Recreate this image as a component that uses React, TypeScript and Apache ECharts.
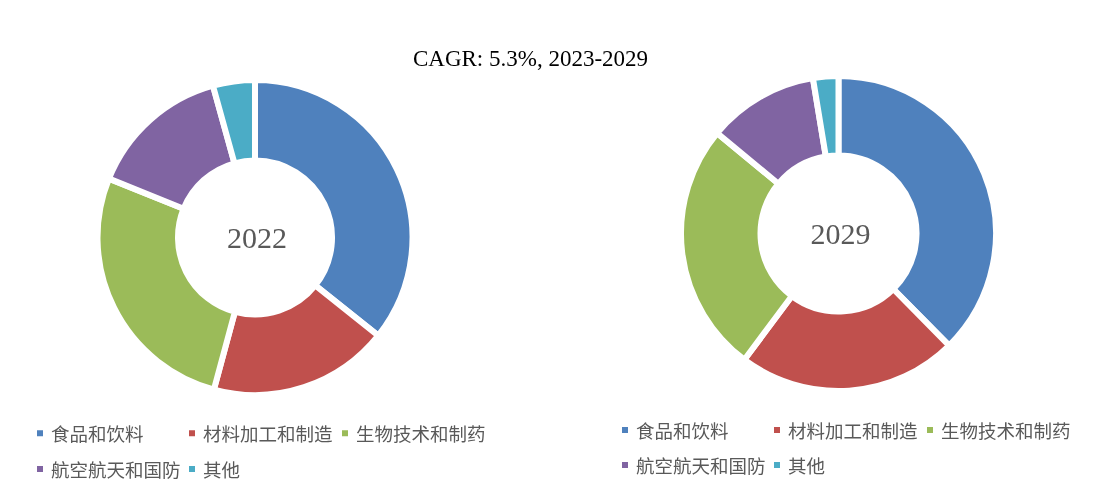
import React, { useEffect, useRef } from "react";
import * as echarts from "echarts";

const categories = ["食品和饮料", "材料加工和制造", "生物技术和制药", "航空航天和国防", "其他"];
const years = ["2022", "2029"];
const share2022 = [35.7, 18.5, 26.9, 14.6, 4.3];
const share2029 = [37.6, 22.6, 25.8, 11.4, 2.6];
const titleText = "CAGR: 5.3%, 2023-2029";
const colors = ["#4F81BD", "#C0504D", "#9BBB59", "#8064A2", "#4BACC6"];

export default function App() {
  const ref = useRef<HTMLDivElement>(null);
  useEffect(() => {
    if (!ref.current) return;
    const chart = echarts.init(ref.current, null, { renderer: "svg" });
    const pies = [
      { values: share2022, center: [255, 237.5], radius: [77, 157.5], label: years[0] },
      { values: share2029, center: [838.5, 233.5], radius: [78, 157.5], label: years[1] },
    ];
    const legendPos = [
      { left: [35, 187, 340, 35, 187], top: [433.3, 433.3, 433.3, 469, 469] },
      { left: [620, 772, 925, 620, 772], top: [430, 430, 430, 465, 465] },
    ];
    const legends: any[] = [];
    legendPos.forEach((lp) => {
      categories.forEach((c, i) => {
        legends.push({
          data: [c],
          left: lp.left[i],
          top: lp.top[i] - 10,
          padding: 0,
          icon: "rect",
          itemWidth: 8,
          itemHeight: 8,
          selectedMode: false,
          textStyle: {
            fontSize: 18.5,
            lineHeight: 20,
            color: "#595959",
            fontFamily: "Noto Sans CJK SC",
            padding: [0, 0, 0, 2],
          },
        });
      });
    });
    chart.setOption({
      animation: false,
      color: colors,
      graphic: [
        {
          type: "text",
          x: 530.5,
          y: 58,
          style: {
            text: titleText,
            fontFamily: "Liberation Serif",
            fontSize: 23,
            fill: "#000",
            textAlign: "center",
            textVerticalAlign: "middle",
          },
        },
        ...pies.map((p) => ({
          type: "text",
          x: p.center[0] + 2,
          y: p.center[1],
          style: {
            text: p.label,
            fontFamily: "Liberation Serif",
            fontSize: 30,
            fill: "#595959",
            textAlign: "center",
            textVerticalAlign: "middle",
          },
        })),
      ],
      legend: legends,
      series: pies.map((p) => ({
        type: "pie",
        center: p.center,
        radius: p.radius,
        startAngle: 90,
        clockwise: true,
        label: { show: false },
        labelLine: { show: false },
        emphasis: { disabled: true },
        itemStyle: { borderColor: "#fff", borderWidth: 6 },
        data: categories.map((c, i) => ({ name: c, value: p.values[i] })),
      })),
    });
    return () => chart.dispose();
  }, []);
  return (
    <div
      ref={ref}
      style={{ position: "fixed", left: 0, top: 0, width: 1094, height: 496 }}
    />
  );
}
